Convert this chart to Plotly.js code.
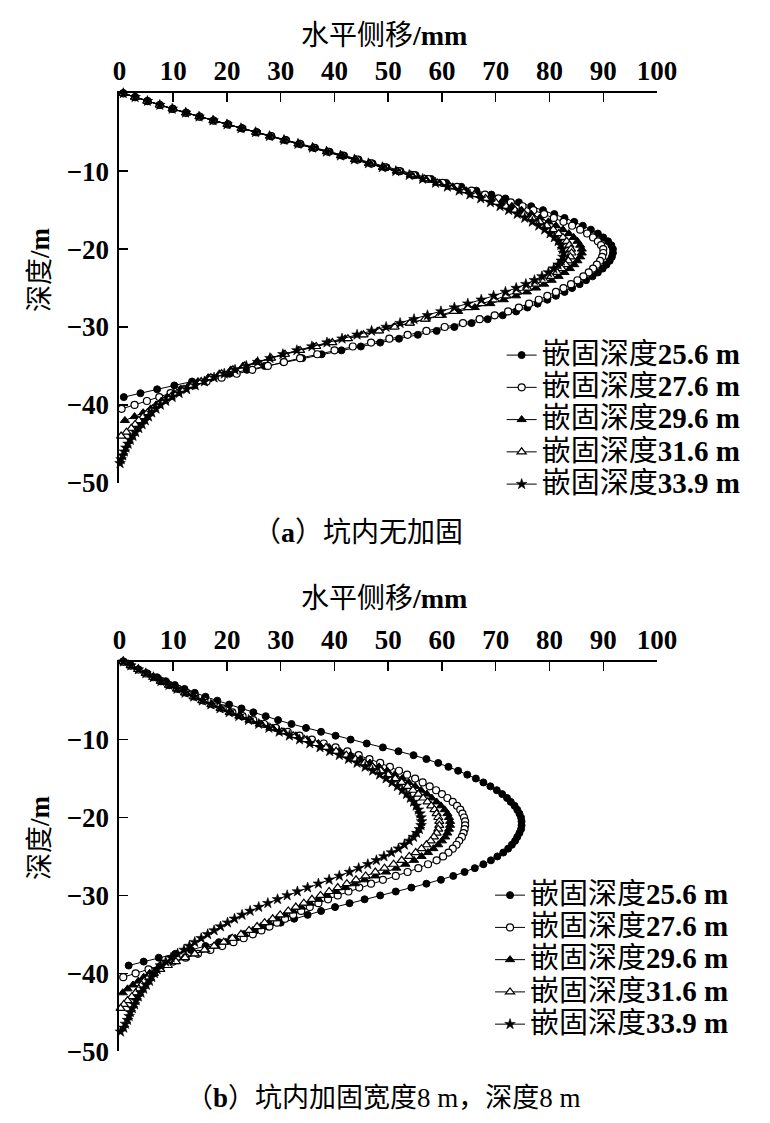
<!DOCTYPE html>
<html>
<head>
<meta charset="utf-8">
<script src="https://cdn.plot.ly/plotly-3.0.1.min.js"></script>
<style>html,body{margin:0;padding:0;background:#fff;}#chart{width:770px;height:1123px;}</style>
</head>
<body>
<div id="chart"></div>
<script>
// Depth below ground (m), sampled every 0.5 m
const depth = [
  0,-0.5,-1,-1.5,-2,-2.5,-3,-3.5,-4,-4.5,
  -5,-5.5,-6,-6.5,-7,-7.5,-8,-8.5,-9,-9.5,
  -10,-10.5,-11,-11.5,-12,-12.5,-13,-13.5,-14,-14.5,
  -15,-15.5,-16,-16.5,-17,-17.5,-18,-18.5,-19,-19.5,
  -20,-20.5,-21,-21.5,-22,-22.5,-23,-23.5,-24,-24.5,
  -25,-25.5,-26,-26.5,-27,-27.5,-28,-28.5,-29,-29.5,
  -30,-30.5,-31,-31.5,-32,-32.5,-33,-33.5,-34,-34.5,
  -35,-35.5,-36,-36.5,-37,-37.5,-38,-38.5,-39,-39.5,
  -40,-40.5,-41,-41.5,-42,-42.5,-43,-43.5,-44,-44.5,
  -45,-45.5,-46,-46.5,-47,-47.5
];

const seriesCJK = ['嵌固深度','嵌固深度','嵌固深度','嵌固深度','嵌固深度'];
const seriesNum = ['25.6 m','27.6 m','29.6 m','31.6 m','33.9 m'];

// (a) no reinforcement inside pit: horizontal displacement (mm)
const a256 = [
  0.7,2.9,5.2,7.5,9.9,12.4,14.9,17.5,20.2,22.9,
  25.6,28.3,31.0,33.7,36.4,39.1,41.8,44.5,47.1,49.7,
  52.3,55.1,58.0,60.8,63.6,66.4,69.2,71.8,74.3,76.6,
  78.8,80.9,82.8,84.6,86.2,87.7,89.0,90.0,90.9,91.5,
  91.8,91.8,91.6,91.2,90.6,89.9,89.0,88.0,86.8,85.6,
  84.2,82.8,81.2,79.6,77.8,75.9,73.8,71.3,68.5,65.5,
  62.3,59.0,55.5,52.0,48.5,44.9,41.3,37.6,34.0,30.5,
  27.0,23.7,20.5,17.0,13.5,10.2,7.0,3.9,0.8
];
const a276 = [
  0.7,2.9,5.2,7.5,9.9,12.4,14.9,17.5,20.2,22.8,
  25.5,28.2,30.9,33.5,36.2,38.8,41.5,44.2,46.8,49.4,
  52.0,54.7,57.4,60.1,62.8,65.5,68.0,70.5,72.8,75.0,
  77.0,79.0,80.8,82.6,84.2,85.7,87.0,88.1,89.0,89.6,
  90.0,90.0,89.8,89.4,88.8,88.1,87.3,86.3,85.2,84.0,
  82.6,81.2,79.6,78.0,76.2,74.3,72.3,69.8,67.0,63.9,
  60.5,57.1,53.6,50.2,46.8,43.4,40.0,36.8,33.6,30.6,
  27.6,24.7,21.8,19.0,16.2,13.8,11.6,9.5,7.4,5.1,
  2.8,0.4
];
const a296 = [
  0.7,2.9,5.2,7.5,9.9,12.4,14.9,17.5,20.2,22.8,
  25.5,28.1,30.8,33.4,36.1,38.7,41.4,44.0,46.6,49.2,
  51.8,54.4,57.0,59.5,62.0,64.5,66.8,69.0,71.0,73.0,
  74.8,76.6,78.2,79.8,81.2,82.5,83.6,84.5,85.2,85.7,
  86.0,86.0,85.7,85.2,84.6,83.8,82.8,81.7,80.4,79.0,
  77.5,75.8,73.8,71.5,69.0,66.1,63.0,60.0,57.0,54.0,
  51.0,48.0,45.0,42.0,39.0,36.1,33.3,30.6,28.0,25.5,
  23.0,20.7,18.6,16.5,14.6,12.9,11.4,10.1,8.9,7.8,
  6.8,5.8,4.4,2.8,1.0
];
const a316 = [
  0.7,2.9,5.2,7.5,9.9,12.4,14.9,17.5,20.1,22.7,
  25.4,28.0,30.7,33.3,36.0,38.6,41.2,43.8,46.4,49.0,
  51.6,54.2,56.7,59.1,61.5,63.8,66.0,68.1,70.0,71.9,
  73.6,75.3,76.8,78.2,79.5,80.7,81.7,82.5,83.2,83.7,
  84.0,84.1,83.9,83.5,83.0,82.3,81.4,80.3,79.0,77.5,
  75.9,74.0,72.0,69.8,67.4,64.9,62.2,59.5,56.8,54.0,
  51.2,48.3,45.4,42.5,39.6,36.6,33.6,30.8,28.2,25.7,
  23.3,21.1,19.0,17.0,15.2,13.5,12.0,10.7,9.5,8.3,
  7.2,6.2,5.2,4.4,3.6,2.9,2.2,1.3,0.3
];
const a339 = [
  0.7,2.9,5.2,7.5,9.8,12.3,14.8,17.4,20.0,22.6,
  25.3,27.9,30.6,33.2,35.9,38.5,41.1,43.7,46.3,48.9,
  51.4,53.9,56.4,58.8,61.0,63.2,65.2,67.2,69.0,70.8,
  72.4,74.0,75.4,76.8,78.0,79.1,80.1,80.9,81.6,82.1,
  82.4,82.6,82.5,82.2,81.6,80.8,79.8,78.6,77.2,75.6,
  73.8,71.8,69.6,67.3,64.8,62.3,59.8,57.3,54.8,52.2,
  49.6,46.9,44.2,41.4,38.6,35.8,33.0,30.4,28.0,25.7,
  23.6,21.5,19.5,17.6,15.8,14.1,12.5,11.1,9.8,8.6,
  7.6,6.8,6.0,5.4,4.8,4.2,3.6,3.0,2.5,2.0,
  1.6,1.2,0.9,0.6,0.3,0.1
];

// (b) pit reinforced, width 8 m, depth 8 m
const b256 = [
  0.8,2.1,3.5,5.2,7.0,8.6,10.3,12.1,14.0,16.0,
  18.2,20.4,22.7,24.9,27.2,29.5,32.0,34.7,37.5,40.2,
  43.0,46.0,49.0,51.9,54.7,57.1,59.3,61.2,63.0,64.7,
  66.3,67.7,69.0,70.2,71.2,72.1,72.8,73.5,74.0,74.4,
  74.7,74.8,74.8,74.7,74.4,74.0,73.6,73.0,72.3,71.4,
  70.3,69.1,67.7,66.1,64.2,62.1,59.8,57.1,54.3,51.4,
  48.5,45.6,42.8,40.1,37.5,35.0,32.5,30.0,27.6,25.3,
  23.0,20.8,18.5,16.0,13.3,10.4,7.3,4.5,1.7
];
const b276 = [
  0.7,2.1,3.5,4.9,6.3,7.8,9.3,10.9,12.5,14.1,
  15.8,17.5,19.2,21.0,22.9,24.9,26.9,29.1,31.3,33.5,
  35.8,38.0,40.2,42.4,44.5,46.5,48.5,50.3,52.0,53.5,
  55.0,56.4,57.7,58.9,60.0,61.0,62.0,62.8,63.4,63.8,
  64.1,64.3,64.3,64.2,64.0,63.7,63.2,62.7,62.0,61.2,
  60.2,59.0,57.4,55.6,53.6,51.4,49.0,46.8,44.6,42.6,
  40.6,38.8,37.0,35.4,33.8,32.3,30.8,29.3,27.9,26.4,
  24.8,23.1,21.2,19.1,16.9,14.6,12.3,10.0,7.8,5.4,
  3.0,0.7
];
const b296 = [
  0.7,2.1,3.5,4.9,6.3,7.7,9.2,10.7,12.3,13.9,
  15.5,17.2,18.9,20.7,22.5,24.4,26.4,28.5,30.6,32.8,
  34.9,37.0,39.0,41.0,43.0,44.8,46.6,48.3,49.8,51.2,
  52.6,53.8,55.0,56.1,57.2,58.1,59.0,59.8,60.5,61.0,
  61.3,61.5,61.5,61.3,61.0,60.6,60.0,59.3,58.4,57.4,
  56.2,54.8,53.2,51.5,49.6,47.6,45.6,43.8,42.0,40.3,
  38.6,37.0,35.4,33.8,32.3,30.8,29.3,27.8,26.3,24.8,
  23.2,21.5,19.8,17.9,16.0,14.0,12.0,10.2,8.5,7.0,
  5.6,4.5,3.5,2.5,1.5,0.6
];
const b316 = [
  0.7,2.1,3.5,4.9,6.3,7.7,9.2,10.7,12.2,13.8,
  15.4,17.1,18.8,20.5,22.3,24.2,26.1,28.1,30.2,32.3,
  34.4,36.4,38.4,40.3,42.2,43.9,45.6,47.1,48.6,50.0,
  51.3,52.5,53.6,54.6,55.6,56.5,57.3,58.0,58.6,59.0,
  59.3,59.5,59.5,59.3,59.0,58.5,57.9,57.1,56.2,55.1,
  53.9,52.5,51.0,49.3,47.6,45.8,44.0,42.3,40.6,39.0,
  37.4,35.8,34.3,32.8,31.4,29.9,28.5,27.0,25.6,24.1,
  22.6,21.0,19.4,17.6,15.8,14.0,12.2,10.5,9.0,7.6,
  6.4,5.4,4.6,4.1,3.6,3.0,2.3,1.5,0.8,0.2
];
const b339 = [
  0.7,2.1,3.5,4.9,6.3,7.7,9.2,10.7,12.2,13.8,
  15.4,17.0,18.7,20.4,22.2,24.0,25.9,27.8,29.7,31.6,
  33.5,35.4,37.3,39.1,40.9,42.6,44.2,45.7,47.1,48.4,
  49.6,50.7,51.7,52.6,53.4,54.1,54.7,55.2,55.6,55.9,
  56.1,56.2,56.1,55.8,55.3,54.7,53.9,53.0,51.9,50.6,
  49.2,47.8,46.2,44.5,42.8,40.9,39.0,37.0,35.0,33.1,
  31.2,29.4,27.6,25.9,24.3,22.8,21.4,20.1,18.8,17.6,
  16.4,15.2,14.0,13.0,12.0,10.8,9.6,8.6,7.6,7.0,
  6.5,6.0,5.6,5.0,4.5,4.0,3.5,3.1,2.8,2.4,
  2.0,1.8,1.5,1.1,0.8,0.2
];

const xTicks = [0,10,20,30,40,50,60,70,80,90,100];
const yTicks = [-10,-20,-30,-40,-50];
const xTitle = '水平侧移<b>/mm</b>';
const yTitle = '深度<b>/m</b>';
const captionA = '（<b>a</b>）坑内无加固';
const captionB = '（<b>b</b>）坑内加固宽度8 m，深度8 m';

const FONT = '"Liberation Serif", "Noto Sans CJK SC", serif';

const markerStyles = [
  {symbol:'circle', size:7, color:'#000', line:{color:'#000', width:1}},
  {symbol:'circle', size:7, color:'#fff', line:{color:'#000', width:1.2}},
  {symbol:'triangle-up', size:8, color:'#000', line:{color:'#000', width:1}},
  {symbol:'triangle-up', size:8, color:'#fff', line:{color:'#000', width:1.2}},
  {symbol:'star', size:8, color:'#000', line:{color:'#000', width:0.6}}
];

function mk(vals, i, xa, ya, leg) {
  return {
    type:'scatter', mode:'lines+markers',
    x: vals, y: depth.slice(0, vals.length),
    xaxis: xa, yaxis: ya, legend: leg,
    name: '<span style="font-size:29px">' + seriesCJK[i] + '<b>' + seriesNum[i] + '</b></span>',
    line:{color:'#000', width:1},
    marker: markerStyles[i],
    cliponaxis:false
  };
}

const dataA = [a256, a276, a296, a316, a339];
const dataB = [b256, b276, b296, b316, b339];
const traces = [];
dataA.forEach((v,i)=>traces.push(mk(v,i,'x','y','legend')));
dataB.forEach((v,i)=>traces.push(mk(v,i,'x2','y2','legend2')));

const tickFont = {family:FONT, size:27, color:'#000', weight:'bold'};
function xax(anchor) {
  return {domain:[0.15519,0.85325], anchor:anchor, side:'top', range:[0,100],
    tickvals:xTicks, ticks:'inside', ticklen:9, tickwidth:1.5, tickcolor:'#000',
    showline:true, linewidth:2, linecolor:'#000', showgrid:false, zeroline:false,
    tickfont:tickFont, fixedrange:true};
}
function yax(anchor, dom) {
  return {domain:dom, anchor:anchor, range:[-50,0],
    tickvals:yTicks, ticks:'inside', ticklen:9, tickwidth:1.5, tickcolor:'#000',
    showline:true, linewidth:2, linecolor:'#000', showgrid:false, zeroline:false,
    tickfont:tickFont, ticklabelstandoff:3, fixedrange:true};
}

const annFont = {family:FONT, size:28, color:'#000'};
const capBFont = {family:FONT, size:27, color:'#000'};
const yTitleFont = {family:FONT, size:27, color:'#000'};
const layout = {
  width:770, height:1123, margin:{l:0,r:0,t:0,b:0},
  paper_bgcolor:'#fff', plot_bgcolor:'rgba(0,0,0,0)',
  xaxis: xax('y'), yaxis: yax('x',[0.57008,0.91692]),
  xaxis2: xax('y2'), yaxis2: yax('x2',[0.06394,0.41078]),
  legend:{x:0.6515, y:0.7026, xanchor:'left', yanchor:'top', bgcolor:'rgba(0,0,0,0)',
    borderwidth:0, tracegroupgap:0, font:{family:FONT, size:22.5, color:'#000'}},
  legend2:{x:0.6364, y:0.2217, xanchor:'left', yanchor:'top', bgcolor:'rgba(0,0,0,0)',
    borderwidth:0, tracegroupgap:0, font:{family:FONT, size:22.5, color:'#000'}},
  annotations:[
    {text:xTitle, xref:'paper', yref:'paper', x:384/770, y:1-35/1123, xanchor:'center', yanchor:'middle', showarrow:false, font:annFont},
    {text:yTitle, xref:'paper', yref:'paper', x:40/770, y:1-270/1123, xanchor:'center', yanchor:'middle', textangle:-90, showarrow:false, font:yTitleFont},
    {text:captionA, xref:'paper', yref:'paper', x:358/770, y:1-533/1123, xanchor:'center', yanchor:'middle', showarrow:false, font:annFont},
    {text:xTitle, xref:'paper', yref:'paper', x:384/770, y:1-598/1123, xanchor:'center', yanchor:'middle', showarrow:false, font:annFont},
    {text:yTitle, xref:'paper', yref:'paper', x:40/770, y:1-838/1123, xanchor:'center', yanchor:'middle', textangle:-90, showarrow:false, font:yTitleFont},
    {text:captionB, xref:'paper', yref:'paper', x:383/770, y:1-1098/1123, xanchor:'center', yanchor:'middle', showarrow:false, font:capBFont}
  ]
};

Plotly.newPlot('chart', traces, layout, {staticPlot:true, displayModeBar:false});
</script>
</body>
</html>
